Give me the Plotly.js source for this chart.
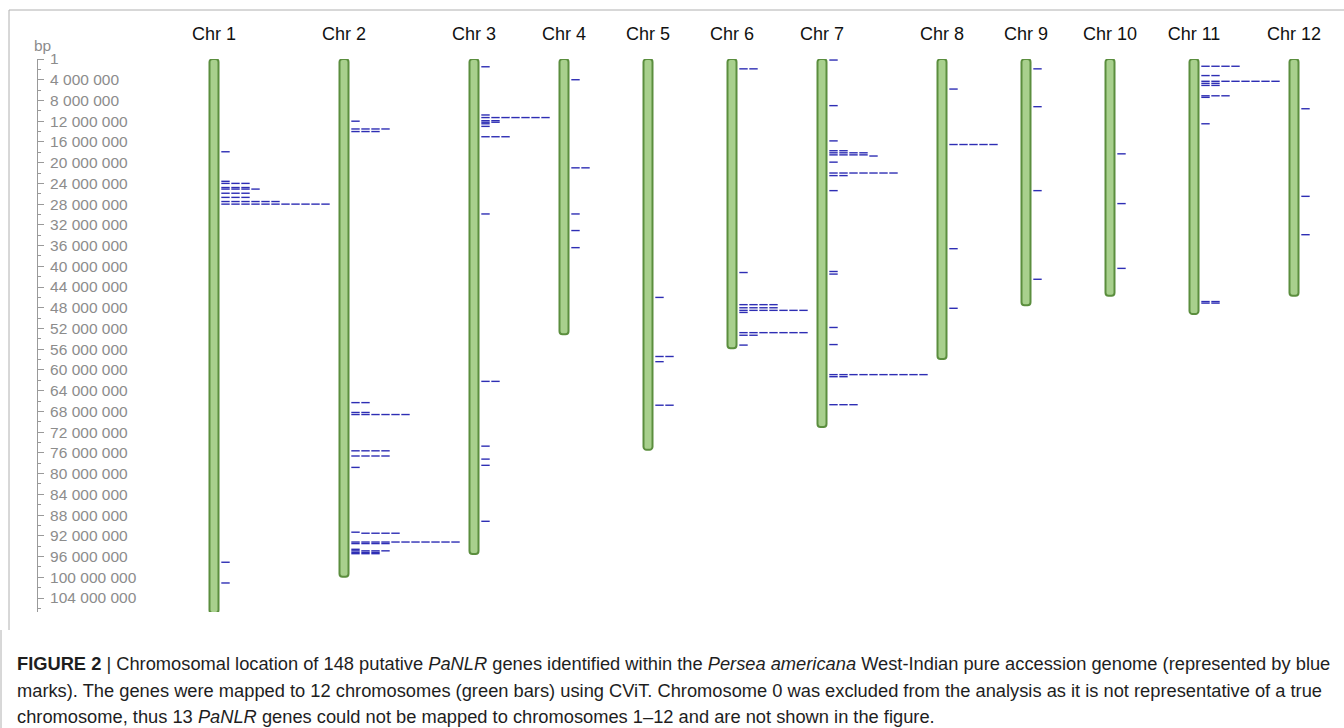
<!DOCTYPE html>
<html>
<head>
<meta charset="utf-8">
<script src="https://cdn.plot.ly/plotly-3.0.1.min.js"></script>
<style>
  html, body { margin: 0; padding: 0; background: #ffffff; }
  #chart { width: 1344px; height: 728px; }
</style>
</head>
<body>
<div id="chart"></div>
<script>
// ---------------- DATA ----------------
const chromosomes = ['Chr 1', 'Chr 2', 'Chr 3', 'Chr 4', 'Chr 5', 'Chr 6', 'Chr 7', 'Chr 8', 'Chr 9', 'Chr 10', 'Chr 11', 'Chr 12'];
const chrLengthBp = [106900000, 99900000, 95500000, 53100000, 75400000, 55800000, 71000000, 57900000, 47500000, 45700000, 49200000, 45700000];

const yTickValues = [1, 4000000, 8000000, 12000000, 16000000, 20000000, 24000000, 28000000, 32000000, 36000000, 40000000, 44000000, 48000000, 52000000, 56000000, 60000000, 64000000, 68000000, 72000000, 76000000, 80000000, 84000000, 88000000, 92000000, 96000000, 100000000, 104000000];

const genesChr1 = [17900000, 23600000,
  24000000, 24000000, 24000000,
  24800000, 24800000, 24800000,
  25100000, 25100000, 25100000, 25100000,
  25900000, 25900000, 25900000,
  26700000, 26700000, 26700000,
  27500000, 27500000, 27500000, 27500000, 27500000, 27500000,
  28000000, 28000000, 28000000, 28000000, 28000000, 28000000, 28000000, 28000000, 28000000, 28000000, 28000000,
  97100000, 101100000];
const genesChr2 = [12000000,
  13500000, 13500000, 13500000, 13500000,
  14000000, 14000000, 14000000,
  66300000, 66300000,
  68200000, 68200000,
  68600000, 68600000, 68600000, 68600000, 68600000, 68600000,
  75600000, 75600000, 75600000, 75600000,
  76600000, 76600000, 76600000, 76600000,
  78800000,
  91300000, 91500000, 91500000, 91500000, 91500000,
  93200000, 93200000, 93200000, 93200000, 93200000, 93200000, 93200000, 93200000, 93200000, 93200000, 93200000,
  93500000, 93500000, 93500000, 93500000,
  94600000,
  94900000, 94900000, 94900000, 94900000,
  95200000, 95200000, 95200000,
  95450000, 95450000, 95450000];
const genesChr3 = [1500000, 10800000,
  11300000, 11300000, 11300000, 11300000, 11300000, 11300000, 11300000,
  11900000, 11900000, 12200000, 12200000, 12500000, 13000000,
  15000000, 15000000, 15000000,
  29900000, 62200000, 62200000, 74700000, 77200000, 78400000, 89200000];
const genesChr4 = [4000000, 21000000, 21000000, 29900000, 33100000, 36400000];
const genesChr5 = [46000000, 57400000, 57400000, 58400000, 66800000, 66800000];
const genesChr6 = [1900000, 1900000, 41200000,
  47400000, 47400000, 47400000, 47400000,
  48000000, 48000000, 48000000, 48000000,
  48500000, 48500000, 48500000, 48500000, 48500000, 48500000, 48500000,
  48900000,
  52800000, 52800000, 52800000, 52800000, 52800000, 52800000, 52800000,
  53300000, 53300000, 55200000];
const genesChr7 = [200000, 9000000, 15800000,
  17700000, 17700000,
  18100000, 18100000, 18100000, 18100000,
  18500000, 18500000, 18500000, 18500000,
  18720000, 19900000,
  22000000, 22000000, 22000000, 22000000, 22000000, 22000000, 22000000,
  22500000, 22500000,
  25400000, 41000000, 41500000, 51800000, 55100000,
  60900000, 60900000, 60900000, 60900000, 60900000, 60900000, 60900000, 60900000, 60900000, 60900000,
  61300000, 61300000,
  66700000, 66700000, 66700000];
const genesChr8 = [5800000, 16500000, 16500000, 16500000, 16500000, 16500000, 36600000, 48100000];
const genesChr9 = [1900000, 9200000, 25400000, 42500000];
const genesChr10 = [18300000, 27900000, 40400000];
const genesChr11 = [1400000, 1400000, 1400000, 1400000,
  3200000, 3200000,
  4300000, 4300000, 4300000, 4300000, 4300000, 4300000, 4300000, 4300000,
  4700000, 4700000, 5100000, 5100000,
  7100000, 7100000, 7100000, 7400000,
  12500000, 46800000, 46800000, 47100000, 47100000];
const genesChr12 = [9600000, 26500000, 33900000];

const genesByChr = [genesChr1, genesChr2, genesChr3, genesChr4, genesChr5, genesChr6,
  genesChr7, genesChr8, genesChr9, genesChr10, genesChr11, genesChr12];

const caption = [
  '<b>FIGURE 2</b> | Chromosomal location of 148 putative <i>PaNLR</i> genes identified within the <i>Persea americana</i> West-Indian pure accession genome (represented by blue',
  'marks). The genes were mapped to 12 chromosomes (green bars) using CViT. Chromosome 0 was excluded from the analysis as it is not representative of a true',
  'chromosome, thus 13 <i>PaNLR</i> genes could not be mapped to chromosomes 1\u201312 and are not shown in the figure.'
];

// ---------------- LAYOUT HELPERS ----------------
const W = 1344, H = 728;
const plotTop = 59, plotBottom = 612;
const yMax = 106700000;
const overlapBp = 250000;      // marks closer than this are shifted to the next column

function assignColumns(pos) {
  const sorted = pos.slice().sort((a, b) => a - b);
  const last = [];
  return sorted.map(p => {
    let c = 0;
    while (last[c] !== undefined && p - last[c] < overlapBp) c++;
    last[c] = p;
    return { p: p, c: c };
  });
}

const placed = genesByChr.map(assignColumns);
const nCols = placed.map(arr => arr.reduce((m, g) => Math.max(m, g.c + 1), 0));

// chromosome x positions (pixel units) – spacing grows with the width of the mark columns
const chrX = [];
let cx = 214;
for (let i = 0; i < chromosomes.length; i++) {
  chrX.push(cx);
  cx += Math.max(84, 10 * nCols[i] + 20);
}

const markX = [], markY = [];
placed.forEach((arr, i) => {
  arr.forEach(g => {
    markX.push(chrX[i] + 11.5 + 10 * g.c);
    markY.push(g.p);
  });
});

const fmt = v => String(v).replace(/\B(?=(\d{3})+(?!\d))/g, ' ');
const yTickText = yTickValues.map(fmt);

const py = p => (plotBottom - p) / (plotBottom - plotTop);
const px = p => p / W;

const traces = [
  {
    type: 'bar',
    x: chrX,
    y: chrLengthBp,
    base: 0,
    width: 9,
    marker: { color: '#a8d08d', line: { color: '#5b8e3e', width: 2 }, cornerradius: 3 },
    cliponaxis: false,
    hoverinfo: 'skip',
    showlegend: false
  },
  {
    type: 'scatter',
    mode: 'markers',
    x: markX,
    y: markY,
    marker: { symbol: 'line-ew', size: 6, color: '#2e2eb4', line: { color: '#2e2eb4', width: 1.4 } },
    cliponaxis: false,
    hoverinfo: 'skip',
    showlegend: false
  }
];

const FONT = 'Liberation Sans, Arial, sans-serif';
const annotations = [
  { text: 'bp', xref: 'paper', yref: 'paper', x: px(32), y: py(45), xanchor: 'left', yanchor: 'middle',
    showarrow: false, font: { family: FONT, size: 15.5, color: '#8c8c8c' } }
];
const capY = [663, 690, 716];
caption.forEach((t, i) => {
  annotations.push({ text: t, xref: 'paper', yref: 'paper', x: px(15), y: py(capY[i]),
    xanchor: 'left', yanchor: 'middle', showarrow: false, align: 'left',
    font: { family: FONT, size: 18.3, color: '#1e1e1e' } });
});

const layout = {
  width: W, height: H,
  margin: { l: 0, r: 0, t: plotTop, b: H - plotBottom, pad: 0 },
  paper_bgcolor: '#ffffff', plot_bgcolor: '#ffffff',
  showlegend: false,
  xaxis: {
    range: [0, W], side: 'top', showgrid: false, zeroline: false, showline: false,
    tickmode: 'array', tickvals: chrX, ticktext: chromosomes, ticks: '',
    ticklabelstandoff: 14,
    tickfont: { family: FONT, size: 18, color: '#111111' }
  },
  yaxis: {
    range: [yMax, 0], anchor: 'free', position: px(37), side: 'right',
    showgrid: false, zeroline: false, showline: true, linecolor: '#9a9a9a', linewidth: 1,
    tickmode: 'array', tickvals: yTickValues, ticktext: yTickText,
    ticks: 'outside', ticklen: 6, tickcolor: '#9a9a9a', tickwidth: 1,
    ticklabelstandoff: 3,
    tickfont: { family: FONT, size: 15.5, color: '#8c8c8c' },
    minor: { tickmode: 'linear', tick0: 0, dtick: 2000000, ticks: 'outside', ticklen: 3, tickcolor: '#9a9a9a', tickwidth: 1 }
  },
  annotations: annotations,
  shapes: [
    { type: 'line', xref: 'paper', yref: 'paper', x0: px(9), x1: px(9), y0: py(10), y1: py(630), line: { color: '#b0b0b0', width: 1 } },
    { type: 'line', xref: 'paper', yref: 'paper', x0: px(9), x1: px(1344), y0: py(10), y1: py(10), line: { color: '#b0b0b0', width: 1 } },
    { type: 'line', xref: 'paper', yref: 'paper', x0: px(1), x1: px(1), y0: py(630), y1: py(728), line: { color: '#b0b0b0', width: 1 } }
  ]
};

Plotly.newPlot('chart', traces, layout, { displayModeBar: false, staticPlot: true });
</script>
</body>
</html>
